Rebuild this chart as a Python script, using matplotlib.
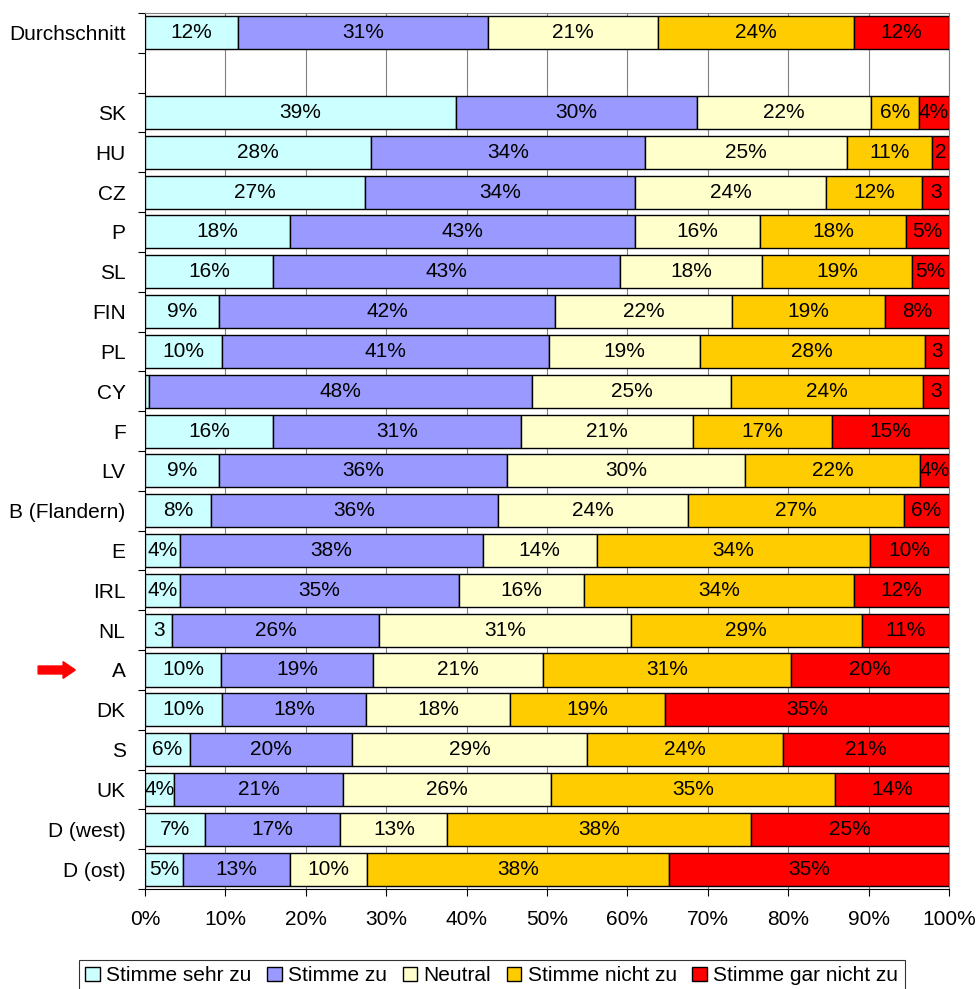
import matplotlib
matplotlib.use("Agg")
import matplotlib.pyplot as plt
import numpy as np
from matplotlib.patches import FancyArrow
import matplotlib.transforms as mtransforms

plt.rcParams['font.family'] = ['Liberation Sans', 'DejaVu Sans']

categories = ["Durchschnitt", "", "SK", "HU", "CZ", "P", "SL", "FIN", "PL", "CY", "F",
              "LV", "B (Flandern)", "E", "IRL", "NL", "A", "DK", "S", "UK",
              "D (west)", "D (ost)"]

series_names = ["Stimme sehr zu", "Stimme zu", "Neutral", "Stimme nicht zu",
                "Stimme gar nicht zu"]

sehr_zu = [11.6, None, 38.7, 28.1, 27.4, 18.0, 15.9, 9.2, 9.6, 0.5, 15.9,
           9.2, 8.2, 4.4, 4.4, 3.4, 9.5, 9.6, 5.6, 3.6, 7.4, 4.7]
zu = [31.1, None, 30.0, 34.1, 33.6, 42.9, 43.2, 41.8, 40.6, 47.6, 30.9,
      35.8, 35.7, 37.6, 34.6, 25.7, 18.9, 17.9, 20.1, 21.0, 16.9, 13.3]
neutral = [21.1, None, 21.6, 25.1, 23.7, 15.6, 17.7, 22.0, 18.8, 24.8, 21.3,
           29.6, 23.6, 14.2, 15.6, 31.3, 21.1, 17.9, 29.3, 25.9, 13.3, 9.6]
nicht_zu = [24.4, None, 6.0, 10.6, 12.0, 18.2, 18.6, 19.0, 28.0, 23.9, 17.3,
            21.8, 26.9, 34.0, 33.6, 28.8, 30.8, 19.3, 24.4, 35.3, 37.8, 37.6]
gar_nicht = [11.8, None, 3.7, 2.1, 3.3, 5.3, 4.6, 8.0, 3.0, 3.2, 14.6,
             3.6, 5.6, 9.8, 11.8, 10.8, 19.7, 35.3, 20.6, 14.2, 24.6, 34.8]

colors = ["#CCFFFF", "#9999FF", "#FFFFCC", "#FFCC00", "#FF0000"]
highlight = "A"

series = [sehr_zu, zu, neutral, nicht_zu, gar_nicht]

fig = plt.figure(figsize=(9.78, 9.89), dpi=100)
ax = fig.add_axes([0.1483, 0.1011, 0.9703 - 0.1483, 0.9869 - 0.1011])

n = len(categories)
y = np.arange(n)
left = np.zeros(n)
fs = 15
valid = np.array([v is not None for v in sehr_zu])
for vals, col, name in zip(series, colors, series_names):
    v = np.array([np.nan if x is None else x for x in vals], dtype=float)
    vv = np.nan_to_num(v)
    ax.barh(y[valid], vv[valid], left=left[valid], height=0.83, color=col,
            edgecolor="black", linewidth=1.0, label=name, zorder=3)
    for i, val in enumerate(v):
        if np.isnan(val) or val < 1:
            continue
        r = int(np.floor(val + 0.5))
        txt = f"{r}" if r <= 3 else f"{r}%"
        ax.text(left[i] + val / 2, y[i], txt, ha="center", va="center",
                fontsize=fs, zorder=4)
    left = left + vv

ax.set_xlim(0, 100)
ax.set_ylim(n - 0.5, -0.5)
ax.set_xticks(np.arange(0, 101, 10))
ax.set_xticklabels([f"{t}%" for t in range(0, 101, 10)], fontsize=fs)
ax.tick_params(axis="x", length=5, direction="out", pad=10)
ax.set_yticks(np.arange(n + 1) - 0.5)
ax.set_yticklabels([])
ax.tick_params(axis="y", which="major", length=5, direction="out")
ax.set_yticks(y, minor=True)
ax.set_yticklabels(categories, minor=True, fontsize=fs)
ax.tick_params(axis="y", which="minor", length=0, pad=14)
ax.grid(axis="x", color="#808080", linewidth=0.8, zorder=0)
ax.set_axisbelow(True)
for s in ["top", "right"]:
    ax.spines[s].set_color("#808080")
for s in ["left", "bottom"]:
    ax.spines[s].set_color("black")

# arrow pointing at highlighted row
idx = categories.index(highlight)
trans = mtransforms.blended_transform_factory(fig.transFigure, ax.transData)
arr = FancyArrow(0.039, idx, 0.038, 0, width=0.2, head_width=0.42,
                 head_length=0.0125, length_includes_head=True,
                 color="#FF0000", transform=trans, clip_on=False)
fig.patches.append(arr)

leg = fig.legend(loc="upper left", bbox_to_anchor=(0.081, 0.0293), ncol=5,
                 fontsize=15, frameon=True, fancybox=False, edgecolor="black",
                 handlelength=0.7, handleheight=0.7, handletextpad=0.3,
                 columnspacing=0.75, borderpad=0.3, borderaxespad=0)
leg.get_frame().set_linewidth(0.8)

fig.savefig("out.png", dpi=100)
